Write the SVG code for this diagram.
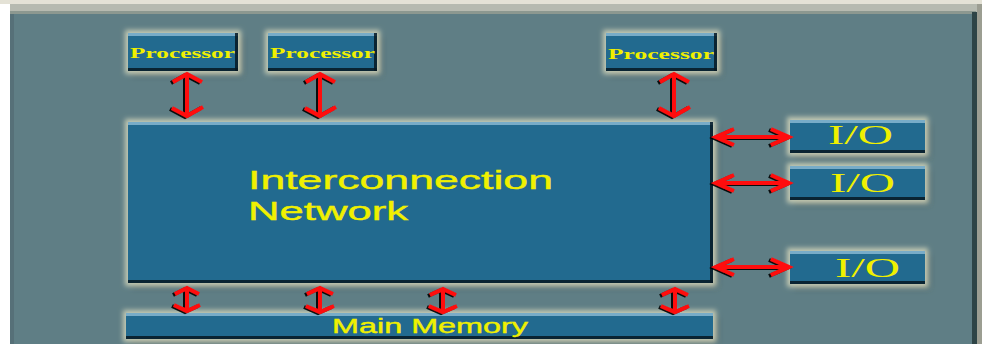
<svg xmlns="http://www.w3.org/2000/svg" width="982" height="344" viewBox="0 0 982 344">
  <style>
    .box { fill: #236a8f; filter: url(#halo); }
    .hi { fill: #8fbdd6; opacity: 0.8; }
    .lo { fill: #061722; opacity: 0.85; }
    .proc { font-family: "Liberation Serif", "DejaVu Serif", serif; font-weight: bold; font-size: 15px; fill: #f0f000; }
    .io { font-family: "Liberation Serif", "DejaVu Serif", serif; font-size: 28px; fill: #f0f000; }
    .sans { font-family: "Liberation Sans", Arial, sans-serif; fill: #f0f000; stroke: #f0f000; stroke-width: 0.4; }
    .wire { fill: none; stroke: #ff1010; stroke-width: 4; stroke-linejoin: miter; }
  </style>
  <defs>
    <filter id="halo" x="-20%" y="-40%" width="140%" height="180%">
      <feMorphology in="SourceAlpha" operator="dilate" radius="2.5" result="grown"/>
      <feGaussianBlur in="grown" stdDeviation="2.5" result="soft"/>
      <feFlood flood-color="#d6d8bc" flood-opacity="0.85"/>
      <feComposite in2="soft" operator="in" result="glow"/>
      <feOffset in="SourceAlpha" dx="4" dy="4" result="off"/>
      <feGaussianBlur in="off" stdDeviation="3" result="offb"/>
      <feFlood flood-color="#2c3c40" flood-opacity="0.6"/>
      <feComposite in2="offb" operator="in" result="shadow"/>
      <feMerge>
        <feMergeNode in="shadow"/>
        <feMergeNode in="glow"/>
        <feMergeNode in="SourceGraphic"/>
      </feMerge>
    </filter>
    <filter id="drop" x="-30%" y="-30%" width="160%" height="160%">
      <feDropShadow dx="-2" dy="1" stdDeviation="0.6" flood-color="#000" flood-opacity="0.9"/>
    </filter>
  </defs>

  <!-- window frame and panel -->
  <rect x="0" y="0" width="982" height="344" fill="#ffffff"/>
  <rect x="0" y="0" width="982" height="4" fill="#e4e2d6"/>
  <rect x="10" y="4" width="972" height="8" fill="#b6bab0"/>
  <rect x="10" y="11" width="966" height="3" fill="#8c9890"/>
  <rect x="10" y="14" width="966" height="330" fill="#5f7e85"/>
  <rect x="10" y="14" width="4" height="330" fill="#567078"/>
  <rect x="972" y="12" width="5" height="332" fill="#2e4446"/>
  <rect x="977" y="4" width="5" height="340" fill="#9c9e92"/>

  <!-- processors -->
  <g id="processor-1">
    <rect class="box" x="128" y="33" width="110" height="38"/>
    <rect class="hi" x="128" y="33" width="110" height="3"/>
    <rect class="lo" x="128" y="68" width="110" height="3"/>
    <rect class="lo" x="235" y="33" width="3" height="38"/>
    <text class="proc" x="130" y="58" textLength="105" lengthAdjust="spacingAndGlyphs">Processor</text>
  </g>
  <g id="processor-2">
    <rect class="box" x="268" y="33" width="109" height="38"/>
    <rect class="hi" x="268" y="33" width="109" height="3"/>
    <rect class="lo" x="268" y="68" width="109" height="3"/>
    <rect class="lo" x="374" y="33" width="3" height="38"/>
    <text class="proc" x="270" y="58" textLength="105" lengthAdjust="spacingAndGlyphs">Processor</text>
  </g>
  <g id="processor-3">
    <rect class="box" x="606" y="33" width="111" height="38"/>
    <rect class="hi" x="606" y="33" width="111" height="3"/>
    <rect class="lo" x="606" y="68" width="111" height="3"/>
    <rect class="lo" x="714" y="33" width="3" height="38"/>
    <text class="proc" x="608" y="59" textLength="106" lengthAdjust="spacingAndGlyphs">Processor</text>
  </g>

  <!-- interconnection network -->
  <g id="network">
    <rect class="box" x="128" y="122" width="585" height="161"/>
    <rect class="hi" x="128" y="122" width="585" height="3"/>
    <rect class="lo" x="128" y="280" width="585" height="3"/>
    <rect class="lo" x="710" y="122" width="3" height="161"/>
    <text class="sans" x="248" y="189" font-size="26" textLength="305" lengthAdjust="spacingAndGlyphs">Interconnection</text>
    <text class="sans" x="248" y="220" font-size="26" textLength="160" lengthAdjust="spacingAndGlyphs">Network</text>
  </g>

  <!-- I/O units -->
  <g id="io-1">
    <rect class="box" x="790" y="120" width="135" height="33"/>
    <rect class="hi" x="790" y="120" width="135" height="3"/>
    <rect class="lo" x="790" y="150" width="135" height="3"/>
    <text class="io" x="828" y="144" textLength="65" lengthAdjust="spacingAndGlyphs">I/O</text>
  </g>
  <g id="io-2">
    <rect class="box" x="790" y="166" width="135" height="34"/>
    <rect class="hi" x="790" y="166" width="135" height="3"/>
    <rect class="lo" x="790" y="197" width="135" height="3"/>
    <text class="io" x="830" y="192" textLength="65" lengthAdjust="spacingAndGlyphs">I/O</text>
  </g>
  <g id="io-3">
    <rect class="box" x="790" y="251" width="135" height="33"/>
    <rect class="hi" x="790" y="251" width="135" height="3"/>
    <rect class="lo" x="790" y="281" width="135" height="3"/>
    <text class="io" x="835" y="277" textLength="65" lengthAdjust="spacingAndGlyphs">I/O</text>
  </g>

  <!-- main memory -->
  <g id="main-memory">
    <rect class="box" x="126" y="313" width="587" height="26"/>
    <rect class="hi" x="126" y="313" width="587" height="3"/>
    <rect class="lo" x="126" y="336" width="587" height="3"/>
    <text class="sans" x="332" y="333" font-size="20" textLength="196" lengthAdjust="spacingAndGlyphs">Main Memory</text>
  </g>

  <!-- double-headed connectors -->
  <g id="connectors" filter="url(#drop)">
    <path class="wire" d="M187,75 V115 M173,82 L187,74 L202,82 M172,108 L187,116 L203,107"/>
    <path class="wire" d="M320,75 V115 M306,82 L320,74 L335,82 M305,108 L320,116 L336,107"/>
    <path class="wire" d="M674,75 V115 M660,82 L674,74 L689,82 M659,108 L674,116 L690,107"/>

    <path class="wire" d="M716,137 H789 M734,129 L716,137 L734,145 M771,129 L789,137 L771,145"/>
    <path class="wire" d="M716,183 H789 M734,175 L716,183 L734,191 M771,175 L789,183 L771,191"/>
    <path class="wire" d="M716,267 H789 M734,259 L716,267 L734,275 M771,259 L789,267 L771,275"/>

    <path class="wire" d="M187,289 V310 M175,294 L187,288 L199,294 M174,305 L187,311 L200,305"/>
    <path class="wire" d="M320,289 V311 M307,294 L320,288 L333,294 M306,306 L320,312 L334,306"/>
    <path class="wire" d="M443,290 V311 M430,295 L443,289 L456,295 M429,306 L443,312 L457,306"/>
    <path class="wire" d="M675,290 V311 M662,295 L675,289 L688,295 M661,306 L675,312 L689,306"/>
  </g>
</svg>
